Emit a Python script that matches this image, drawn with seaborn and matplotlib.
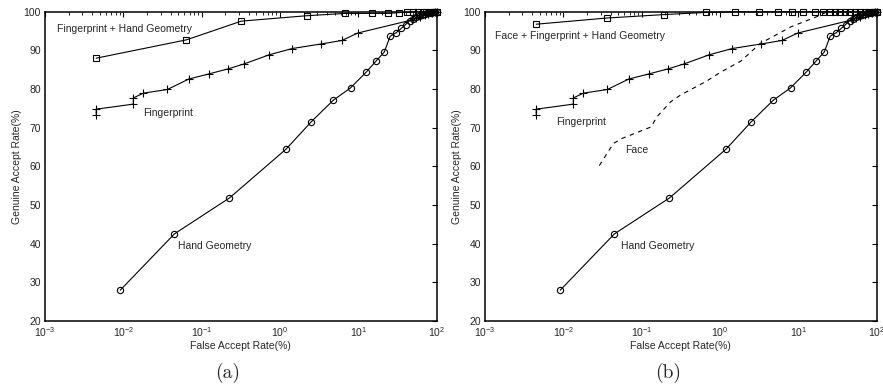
import numpy as np
import matplotlib
matplotlib.use("Agg")
import matplotlib.pyplot as plt
import seaborn as sns

# False accept rate (%) / genuine accept rate (%)
fp_far = [0.0045, 0.0045, 0.0134, 0.0134, 0.018, 0.0365, 0.0684, 0.125, 0.219, 0.351,
          0.733, 1.43, 3.38, 6.2, 9.75, 48, 55, 62, 70, 78, 86, 94, 100]
fp_gar = [73.4, 74.8, 76.1, 77.7, 78.95, 79.9, 82.6, 83.95, 85.25, 86.55,
          88.9, 90.5, 91.7, 92.6, 94.5, 97.9, 98.3, 98.7, 99.1, 99.4, 99.7, 99.9, 100]

hg_far = [0.0091, 0.0448, 0.226, 1.2, 2.52, 4.77, 7.93, 12.6, 16.7, 21.4, 25.5, 30.4,
          35.2, 40, 45, 50, 55, 60, 65, 70, 75, 80, 85, 90, 95, 100]
hg_gar = [27.9, 42.5, 51.8, 64.5, 71.6, 77.1, 80.3, 84.4, 87.2, 89.6, 93.7, 94.6,
          95.7, 96.7, 97.7, 98.2, 98.6, 99.0, 99.2, 99.4, 99.6, 99.7, 99.8, 99.9, 100, 100]

fphg_far = [0.0045, 0.0638, 0.321, 2.2, 6.84, 15, 24.2, 33.2, 42, 50, 58, 66, 74, 82, 90, 100]
fphg_gar = [88.0, 92.75, 97.6, 99.0, 99.6, 99.6, 99.6, 99.8, 99.9, 100, 100, 100, 100, 100, 100, 100]

all_far = [0.0045, 0.0358, 0.195, 0.658, 1.57, 3.13, 5.42, 8.34, 11.6, 16.1, 20.9, 25.5,
           29.5, 34.2, 39.6, 45.9, 53, 61.5, 70, 80, 90, 100]
all_gar = [96.8, 98.4, 99.3, 99.85, 100, 100, 100, 100, 100, 100, 100, 100,
           100, 100, 100, 100, 100, 100, 100, 100, 100, 100]

face_far = [0.0288, 0.0435, 0.0557, 0.132, 0.156, 0.234, 0.31, 0.678, 1.02, 1.83, 3.25,
            8, 19, 23, 40, 100]
face_gar = [60.2, 65.9, 67.2, 70.2, 72.8, 76.7, 78.4, 82.1, 84.4, 87.2, 91.8,
            96.1, 99.1, 100, 100, 100]

yticks = [20, 30, 40, 50, 60, 70, 80, 90, 100]

sns.set_style("white")
plt.rcParams["font.family"] = ["Liberation Sans", "DejaVu Sans"]
plt.rcParams["mathtext.fontset"] = "custom"
plt.rcParams["mathtext.rm"] = "Liberation Sans"
plt.rcParams["mathtext.it"] = "Liberation Sans:italic"

fig = plt.figure(figsize=(8.83, 3.86), dpi=100)
ax_a = fig.add_axes([0.051, 0.169, 0.4436, 0.8003])
ax_b = fig.add_axes([0.5493, 0.169, 0.4436, 0.8003])


def curve(ax, x, y, marker=None, ms=4, ls="-"):
    kw = dict(color="black", linewidth=0.8, linestyle=ls, estimator=None, sort=False,
              ax=ax, clip_on=False, zorder=3)
    if marker is not None:
        kw.update(marker=marker, markersize=ms, markerfacecolor="none",
                  markeredgecolor="black", markeredgewidth=0.8)
    sns.lineplot(x=x, y=y, **kw)


def setup(ax):
    ax.set_xscale("log")
    ax.set_xlim(1e-3, 1e2)
    ax.set_ylim(20, 100)
    ax.set_yticks(yticks)
    ax.tick_params(which="both", direction="in", top=True, right=True, labelsize=7.5,
                   color="black", pad=3)
    ax.tick_params(which="major", length=3.5, width=0.8)
    ax.tick_params(which="minor", length=2, width=0.6)
    for s in ax.spines.values():
        s.set_linewidth(1.1)
        s.set_color("black")
    ax.set_xlabel("False Accept Rate(%)", fontsize=7.5, labelpad=1.5)
    ax.set_ylabel("Genuine Accept Rate(%)", fontsize=7.5, labelpad=1)


# (a)
curve(ax_a, fphg_far, fphg_gar, marker="s", ms=4)
curve(ax_a, fp_far, fp_gar, marker="+", ms=6)
curve(ax_a, hg_far, hg_gar, marker="o", ms=4.5)
setup(ax_a)
ax_a.text(0.00142, 95.5, "Fingerprint + Hand Geometry", fontsize=7.5, va="center")
ax_a.text(0.0177, 73.9, "Fingerprint", fontsize=7.5, va="center")
ax_a.text(0.0496, 39.3, "Hand Geometry", fontsize=7.5, va="center")

# (b)
curve(ax_b, all_far, all_gar, marker="s", ms=4)
curve(ax_b, fp_far, fp_gar, marker="+", ms=6)
curve(ax_b, hg_far, hg_gar, marker="o", ms=4.5)
curve(ax_b, face_far, face_gar, ls=(0, (4, 4)))
setup(ax_b)
ax_b.text(0.00134, 93.7, "Face + Fingerprint + Hand Geometry", fontsize=7.5, va="center")
ax_b.text(0.008, 71.4, "Fingerprint", fontsize=7.5, va="center")
ax_b.text(0.0614, 64.2, "Face", fontsize=7.5, va="center")
ax_b.text(0.0546, 39.3, "Hand Geometry", fontsize=7.5, va="center")

fig.text(0.2577, 0.035, "(a)", fontsize=14, family="cmr10", ha="center", va="center")
fig.text(0.7565, 0.035, "(b)", fontsize=14, family="cmr10", ha="center", va="center")

fig.savefig("out.png", dpi=100)
